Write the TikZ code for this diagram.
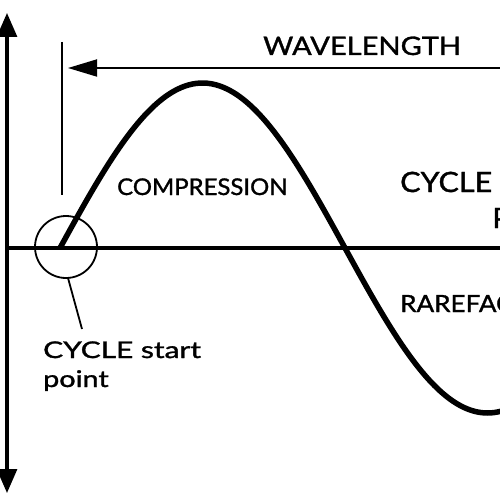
\documentclass[tikz,border=0pt]{standalone}
\usepackage{fontspec}
\setmainfont{Lato}
\newfontfamily\lblfont{Lato}[FakeBold=1.2]
\usetikzlibrary{arrows.meta,positioning}
\tikzset{
  axisln/.style={line width=3.2pt},
  thinln/.style={line width=1.8pt},
  waveln/.style={line width=5.5pt},
  bigtip/.style={{Triangle[length=24pt,width=20pt]}-{Triangle[length=24pt,width=20pt]}},
  lentip/.style={{Triangle[length=29pt,width=17pt]}-},
  lbl/.style={inner sep=0pt,anchor=base west},
  fsz/.style={font=\lblfont\fontsize{#1}{29}\selectfont}
}
\newcommand{\wide}[2]{\scalebox{#1}[1]{#2}}
\begin{document}
\begin{tikzpicture}[x=1pt,y=-1pt]
  \useasboundingbox (0,0) rectangle (500,500);
  \clip (0,0) rectangle (500,500);

  % axes
  \coordinate (ytop) at (7,13);
  \coordinate (ybot) at (7,493);
  \coordinate (xorg) at (5,248);
  \coordinate (xend) at (510,248);
  \draw[axisln,bigtip] (ytop) -- (ybot);
  \draw[axisln] (xorg) -- (xend);

  % wavelength marker
  \coordinate (tktop) at (62,42);
  \coordinate (tkbot) at (62,195);
  \coordinate (wlend) at (510,68);
  \coordinate (wlbeg) at (68,68);
  \draw[thinln] (tktop) -- (tkbot);
  \draw[thinln,lentip] (wlbeg) -- (wlend);

  % the wave
  \draw[waveln,domain=60:510,samples=120,smooth]
    plot (\x,{248-165*sin((\x-60)/570*360)});

  % start point
  \node[circle,draw,thinln,minimum size=62pt,inner sep=0pt] (start) at (66,247) {};
  \coordinate (lead) at (82,329);
  \draw[thinln] (start.-86) -- (lead);

  % labels
  \node[lbl,fsz=25.5] (wl) at (263,55) {\wide{1.14}{WAVELENGTH}};
  \node[lbl,fsz=23] (comp) at (117,195) {\wide{1.04}{COMPRESSION}};
  \node[lbl,fsz=28] (cyc) at (400,192) {\wide{1.09}{CYCLE}};
  \node[lbl,fsz=28] (pt) at (492,228) {\wide{1.09}{P}};
  \node[lbl,fsz=23.7] (rare) at (400,312) {\wide{1.1}{RAREFAC}};
  \node[lbl,fsz=23,align=left] (stlbl) at (43,387)
    {\wide{1.3}{CYCLE start}\\\wide{1.25}{point}};
\end{tikzpicture}
\end{document}
